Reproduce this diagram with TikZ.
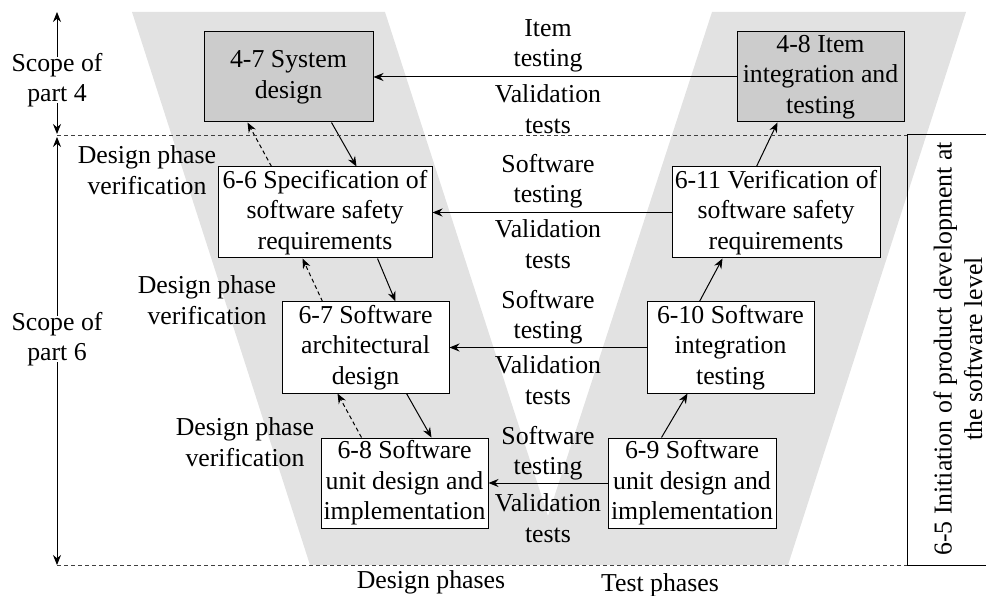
\documentclass[tikz,border=0pt]{standalone}
\usepackage{fontspec}
\setmainfont{Liberation Serif}
\usetikzlibrary{arrows.meta}
\definecolor{vgray}{RGB}{226,226,226}
\definecolor{boxgray}{RGB}{204,204,204}
\begin{document}
\begin{tikzpicture}[x=1pt,y=-1pt,
  every node/.style={font=\fontsize{25.8}{30.5}\selectfont, align=center, inner sep=0pt},
  phasebox/.style={draw, line width=1pt, fill=white},
  topbox/.style={phasebox, fill=boxgray},
  arr/.style={line width=1pt, -{Stealth[length=10pt,width=8pt]}},
  darr/.style={arr, dash pattern=on 4pt off 3pt},
  sep/.style={line width=0.9pt, dash pattern=on 4pt off 3pt, draw=black!75}
]
\useasboundingbox (0,0) rectangle (986,596);
% V background
\fill[vgray] (132,12) -- (385,12) -- (548,516) -- (712,12) -- (966,12) -- (788,565) -- (310,565) -- cycle;

% boxes
\node[topbox, minimum width=169pt, minimum height=90pt] (sys) at (288.5,77) {4-7 System\\design};
\node[topbox, minimum width=167pt, minimum height=90pt] (item) at (820.5,77) {4-8 Item\\integration and\\testing};
\node[phasebox, minimum width=214pt, minimum height=91pt] (spec) at (325,212.5) {6-6 Specification of\\software safety\\requirements};
\node[phasebox, minimum width=208pt, minimum height=91pt] (ver) at (776,212.5) {6-11 Verification of\\software safety\\requirements};
\node[phasebox, minimum width=167pt, minimum height=91pt] (arch) at (365.5,347.5) {6-7 Software\\architectural\\design};
\node[phasebox, minimum width=167pt, minimum height=91pt] (integ) at (730.5,347.5) {6-10 Software\\integration\\testing};
\node[phasebox, minimum width=167pt, minimum height=90pt] (unit) at (404.5,483) {6-8 Software\\unit design and\\implementation};
\node[phasebox, minimum width=168pt, minimum height=90pt] (utest) at (692,483) {6-9 Software\\unit design and\\implementation};

% horizontal arrows
\draw[arr] (item.west) -- (sys.east);
\draw[arr] (ver.west) -- (spec.east);
\draw[arr] (integ.west) -- (arch.east);
\draw[arr] (utest.west) -- (unit.east);

% middle labels
\node (l1a) at (548,46) {Item\\testing};
\node (l1b) at (548,109) {Validation\\tests};
\node (l2a) at (548,181) {Software\\testing};
\node (l2b) at (548,244) {Validation\\tests};
\node (l3a) at (548,317) {Software\\testing};
\node (l3b) at (548,380) {Validation\\tests};
\node (l4a) at (548,453) {Software\\testing};
\node (l4b) at (548,518) {Validation\\tests};

% design side arrows
\draw[arr] ([xshift=128pt]sys.south west) -- ([xshift=139pt]spec.north west);
\draw[darr] ([xshift=54pt]spec.north west) -- ([xshift=44pt]sys.south west);
\draw[arr] ([xshift=160pt]spec.south west) -- ([xshift=114pt]arch.north west);
\draw[darr] ([xshift=41pt]arch.north west) -- ([xshift=85pt]spec.south west);
\draw[arr] ([xshift=125pt]arch.south west) -- ([xshift=111pt]unit.north west);
\draw[darr] ([xshift=41pt]unit.north west) -- ([xshift=56pt]arch.south west);

% test side arrows
\draw[arr] ([xshift=54pt]utest.north west) -- ([xshift=41pt]integ.south west);
\draw[arr] ([xshift=53pt]integ.north west) -- ([xshift=51pt]ver.south west);
\draw[arr] ([xshift=85pt]ver.north west) -- ([xshift=41pt]item.south west);

% design phase verification labels
\node (dv1) at (147,170) {Design phase\\verification};
\node (dv2) at (207,300) {Design phase\\verification};
\node (dv3) at (245,442) {Design phase\\verification};

% 6-5 frame
\coordinate (fnw) at (907,135);
\coordinate (fsw) at (907,565);
\draw[line width=1pt] (986,135) -- (fnw) -- (fsw) -- (986,565);
\node[rotate=90] (init) at (958,349) {6-5 Initiation of product development at\\the software level};

% separators
\coordinate (sl) at (57,135);
\coordinate (bl) at (57,565);
\draw[sep] (sl) -- (fnw);
\draw[sep] (bl) -- (fsw);

% scope arrows
\node (s4) at (57,80) {Scope of\\part 4};
\node (s6) at (57,339) {Scope of\\part 6};
\coordinate (t4) at (57,12);
\coordinate (m4) at (57,134);
\coordinate (m6) at (57,137);
\draw[arr] ([yshift=-4pt]s4.north) -- (t4);
\draw[arr] ([yshift=4pt]s4.south) -- (m4);
\draw[arr] ([yshift=-4pt]s6.north) -- (m6);
\draw[arr] ([yshift=4pt]s6.south) -- (bl);

% bottom labels
\node (dp) at (431,582) {Design phases};
\node (tp) at (660,585) {Test phases};
\end{tikzpicture}
\end{document}
